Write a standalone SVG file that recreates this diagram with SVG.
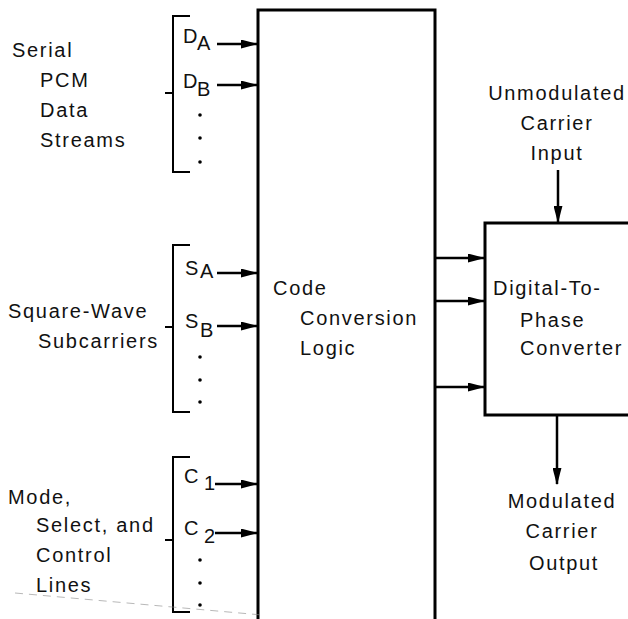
<svg xmlns="http://www.w3.org/2000/svg" width="628" height="619" viewBox="0 0 628 619">
<defs>
<marker id="ah" markerWidth="7" markerHeight="3.6" refX="6.5" refY="1.8" orient="auto" markerUnits="strokeWidth">
<path d="M0,0 L7,1.8 L0,3.6 Z" fill="#000"/>
</marker>
<style>
text{font-family:"Liberation Sans",Arial,sans-serif;font-size:20px;letter-spacing:1.7px;fill:#111}
.sym{font-size:20px;letter-spacing:0}
.box{fill:#fff;stroke:#000;stroke-width:3}
.br{fill:none;stroke:#000;stroke-width:2}
.ar{fill:none;stroke:#000;stroke-width:2.5;marker-end:url(#ah)}
.mid{text-anchor:middle}
</style>
</defs>
<rect width="628" height="619" fill="#fff"/>
<g id="code-conversion-logic">
<path class="box" d="M258,625 L258,10 L435,10 L435,625"/>
<text x="273" y="295">Code</text>
<text x="300" y="325">Conversion</text>
<text x="300" y="355">Logic</text>
</g>
<g id="digital-to-phase">
<path class="box" d="M640,223 L485,223 L485,415 L640,415"/>
<text x="493" y="295">Digital-To-</text>
<text x="520" y="327">Phase</text>
<text x="520" y="355">Converter</text>
</g>
<g id="serial-pcm">
<path class="br" d="M190,16 L173,16 L173,172 L190,172 M165,93 L173,93"/>
<text x="12" y="57">Serial</text>
<text x="40" y="87">PCM</text>
<text x="40" y="117">Data</text>
<text x="40" y="147">Streams</text>
<text x="183" y="43" class="sym">D</text><text x="197" y="50" class="sym">A</text>
<text x="183" y="88" class="sym">D</text><text x="197" y="96" class="sym">B</text>
<circle cx="200" cy="115" r="1.8"/><circle cx="200" cy="138" r="1.8"/><circle cx="200" cy="162" r="1.8"/>
</g>
<g id="square-wave">
<path class="br" d="M190,245 L173,245 L173,412 L190,412 M165,327 L173,327"/>
<text x="8" y="318">Square-Wave</text>
<text x="38" y="348">Subcarriers</text>
<text x="185" y="275" class="sym">S</text><text x="200" y="278" class="sym">A</text>
<text x="185" y="328" class="sym">S</text><text x="200" y="337" class="sym">B</text>
<circle cx="200" cy="357" r="1.8"/><circle cx="200" cy="380" r="1.8"/><circle cx="200" cy="402" r="1.8"/>
</g>
<g id="mode-select">
<path class="br" d="M190,457 L173,457 L173,612 L190,612 M165,540 L173,540"/>
<text x="8" y="504">Mode,</text>
<text x="36" y="532">Select, and</text>
<text x="36" y="562">Control</text>
<text x="36" y="592">Lines</text>
<text x="184" y="483" class="sym">C</text><text x="204" y="490" class="sym">1</text>
<text x="184" y="535" class="sym">C</text><text x="204" y="543" class="sym">2</text>
<circle cx="200" cy="560" r="1.8"/><circle cx="200" cy="583" r="1.8"/><circle cx="200" cy="605" r="1.8"/>
</g>
<g id="carrier-input">
<text x="557" y="100" class="mid">Unmodulated</text>
<text x="557" y="130" class="mid">Carrier</text>
<text x="557" y="160" class="mid">Input</text>
</g>
<g id="carrier-output">
<text x="562" y="508" class="mid">Modulated</text>
<text x="562" y="538" class="mid">Carrier</text>
<text x="564" y="570" class="mid">Output</text>
</g>
<g id="connectors">
<line class="ar" x1="217" y1="44" x2="257" y2="44"/>
<line class="ar" x1="217" y1="85" x2="257" y2="85"/>
<line class="ar" x1="217" y1="273" x2="257" y2="273"/>
<line class="ar" x1="217" y1="326" x2="257" y2="326"/>
<line class="ar" x1="215" y1="484" x2="257" y2="484"/>
<line class="ar" x1="215" y1="533" x2="257" y2="533"/>
<line class="ar" x1="436" y1="258" x2="484" y2="258"/>
<line class="ar" x1="436" y1="301" x2="484" y2="301"/>
<line class="ar" x1="436" y1="387" x2="484" y2="387"/>
<line class="ar" x1="558" y1="170" x2="558" y2="222"/>
<line class="ar" x1="557" y1="416" x2="557" y2="484"/>
</g>
<path d="M15,593 L262,615" fill="none" stroke="#888" stroke-width="1" stroke-dasharray="8,6" opacity="0.6"/>
</svg>
